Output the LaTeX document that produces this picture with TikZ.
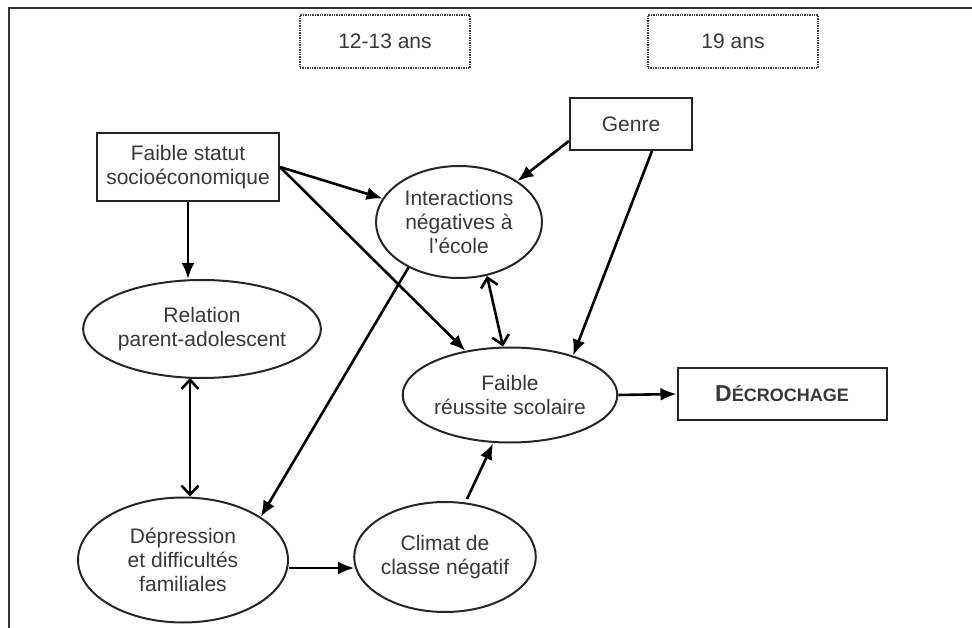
\documentclass[tikz,border=0pt]{standalone}
\usepackage{fontspec}
\setmainfont{Liberation Sans}
\usetikzlibrary{shapes.geometric,arrows.meta,calc}
\begin{document}
\begin{tikzpicture}[x=1pt,y=-1pt,
  font=\fontsize{21}{24}\selectfont,
  box/.style={draw=black!85, line width=2pt, fill=white, align=center, text=black!78, inner sep=0pt},
  oval/.style={ellipse, draw=black!85, line width=2pt, fill=white, align=center, text=black!78, inner sep=0pt},
  agebox/.style={draw=black!75, densely dotted, line width=1.4pt, fill=white, text=black!78, minimum width=170pt, minimum height=53pt, inner sep=0pt},
  arr/.style={line width=2.6pt, -{Latex[length=16pt,width=13pt]}},
  biarr/.style={line width=2.6pt, {Straight Barb[length=9pt,width=17pt]}-{Straight Barb[length=9pt,width=17pt]}}
]
\useasboundingbox (0,0) rectangle (972,628);
% frame
\coordinate (frTL) at (9,8);
\coordinate (frTR) at (972,8);
\coordinate (frBL) at (9,628);
\draw[line width=2.2pt, black!80] (frBL) -- (frTL) -- (frTR);

% age boxes
\node[agebox] (a1) at (385,41.5) {12-13 ans};
\node[agebox] (a2) at (733,41.5) {19 ans};

% nodes
\node[box, minimum width=182pt, minimum height=68pt] (fs) at (188,167) {Faible statut\\socioéconomique};
\node[box, minimum width=122pt, minimum height=52pt] (g) at (631,124) {Genre};
\node[oval, minimum width=166pt, minimum height=112pt] (inter) at (459,222) {Interactions\\négatives à\\l’école};
\node[oval, minimum width=188pt, minimum height=98pt] (rel) at (202,329) {Relation\\parent-adolescent};
\node[oval, minimum width=194pt, minimum height=95pt] (fr) at (510,395) {Faible\\réussite scolaire};
\node[box, minimum width=209pt, minimum height=52pt, font=\bfseries] (dec) at (782,394)
  {{\fontsize{23}{26}\selectfont D}{\fontsize{18}{20}\selectfont ÉCROCHAGE}};
\node[oval, minimum width=210pt, minimum height=125pt] (dep) at (183,560) {Dépression\\et difficultés\\familiales};
\node[oval, minimum width=170pt, minimum height=110pt] (cl) at (445,557) {Climat de\\classe négatif};

% connectors
\draw[arr] (fs.south) -- (fs.south |- rel.north);
\draw[arr] (fs.east) -- (inter);
\draw[arr] (fs.east) -- (fr);
\draw[arr] ([yshift=10pt]g.south west) -- (inter.35);
\draw[arr] ([xshift=21pt]g.south) -- (fr.32);
\draw[biarr] ([xshift=28pt,yshift=3pt]inter.south) -- ([xshift=-7pt]fr.north);
\draw[arr] (inter.222) -- (dep.29);
\draw[biarr] ([xshift=-12pt,yshift=1pt]rel.south) -- ([xshift=7pt]dep.north);
\draw[arr] ([yshift=-8pt]dep.east) -- ([yshift=-11pt,xshift=1pt]cl.west);
\draw[arr] ([xshift=22pt,yshift=2pt]cl.north) -- ([xshift=-17pt]fr.south);
\draw[arr] (fr.east) -- (dec.west);
\end{tikzpicture}
\end{document}
